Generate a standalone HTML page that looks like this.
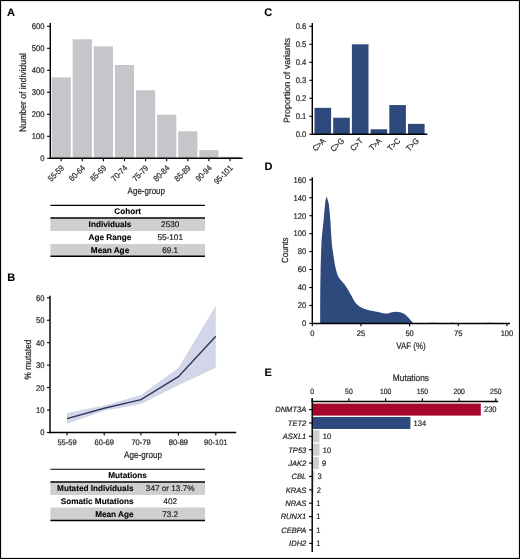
<!DOCTYPE html>
<html><head><meta charset="utf-8"><style>
html,body{margin:0;padding:0;background:#fff;}
body{width:520px;height:559px;overflow:hidden;}
svg{display:block;font-family:"Liberation Sans", sans-serif;will-change:transform;}
</style></head><body>
<svg width="520" height="559" viewBox="0 0 520 559" text-rendering="geometricPrecision">
<rect x="0" y="0" width="520" height="559" fill="#fff"/>
<text x="7.00" y="16.30" font-size="11" font-weight="bold" fill="#000" stroke="#000" stroke-width="0.1">A</text>
<text x="7.30" y="280.70" font-size="11" font-weight="bold" fill="#000" stroke="#000" stroke-width="0.1">B</text>
<text x="264.20" y="16.30" font-size="11" font-weight="bold" fill="#000" stroke="#000" stroke-width="0.1">C</text>
<text x="264.40" y="170.30" font-size="11" font-weight="bold" fill="#000" stroke="#000" stroke-width="0.1">D</text>
<text x="264.40" y="375.70" font-size="11" font-weight="bold" fill="#000" stroke="#000" stroke-width="0.1">E</text>
<rect x="51.60" y="77.34" width="19.20" height="80.96" fill="#c6c5ca"/>
<rect x="72.70" y="39.28" width="19.20" height="119.02" fill="#c6c5ca"/>
<rect x="93.80" y="46.32" width="19.20" height="111.98" fill="#c6c5ca"/>
<rect x="114.90" y="65.02" width="19.20" height="93.28" fill="#c6c5ca"/>
<rect x="136.00" y="90.32" width="19.20" height="67.98" fill="#c6c5ca"/>
<rect x="157.10" y="114.74" width="19.20" height="43.56" fill="#c6c5ca"/>
<rect x="178.20" y="131.24" width="19.20" height="27.06" fill="#c6c5ca"/>
<rect x="199.30" y="150.16" width="19.20" height="8.14" fill="#c6c5ca"/>
<rect x="220.40" y="156.76" width="19.20" height="1.54" fill="#c6c5ca"/>
<line x1="50.30" y1="22.90" x2="50.30" y2="158.95" stroke="#000" stroke-width="1.45"/>
<line x1="49.65" y1="158.30" x2="242.60" y2="158.30" stroke="#000" stroke-width="1.45"/>
<line x1="47.10" y1="158.30" x2="50.30" y2="158.30" stroke="#000" stroke-width="1.1"/>
<text transform="translate(44.60 161.20) scale(0.9200 1)" font-size="8.3" text-anchor="end" fill="#231f20" stroke="#231f20" stroke-width="0.2">0</text>
<line x1="47.10" y1="136.30" x2="50.30" y2="136.30" stroke="#000" stroke-width="1.1"/>
<text transform="translate(44.60 139.20) scale(0.9200 1)" font-size="8.3" text-anchor="end" fill="#231f20" stroke="#231f20" stroke-width="0.2">100</text>
<line x1="47.10" y1="114.30" x2="50.30" y2="114.30" stroke="#000" stroke-width="1.1"/>
<text transform="translate(44.60 117.20) scale(0.9200 1)" font-size="8.3" text-anchor="end" fill="#231f20" stroke="#231f20" stroke-width="0.2">200</text>
<line x1="47.10" y1="92.30" x2="50.30" y2="92.30" stroke="#000" stroke-width="1.1"/>
<text transform="translate(44.60 95.20) scale(0.9200 1)" font-size="8.3" text-anchor="end" fill="#231f20" stroke="#231f20" stroke-width="0.2">300</text>
<line x1="47.10" y1="70.30" x2="50.30" y2="70.30" stroke="#000" stroke-width="1.1"/>
<text transform="translate(44.60 73.20) scale(0.9200 1)" font-size="8.3" text-anchor="end" fill="#231f20" stroke="#231f20" stroke-width="0.2">400</text>
<line x1="47.10" y1="48.30" x2="50.30" y2="48.30" stroke="#000" stroke-width="1.1"/>
<text transform="translate(44.60 51.20) scale(0.9200 1)" font-size="8.3" text-anchor="end" fill="#231f20" stroke="#231f20" stroke-width="0.2">500</text>
<line x1="47.10" y1="26.30" x2="50.30" y2="26.30" stroke="#000" stroke-width="1.1"/>
<text transform="translate(44.60 29.20) scale(0.9200 1)" font-size="8.3" text-anchor="end" fill="#231f20" stroke="#231f20" stroke-width="0.2">600</text>
<line x1="61.20" y1="158.30" x2="61.20" y2="161.20" stroke="#000" stroke-width="1.1"/>
<text transform="translate(64.60 168.60) rotate(-45) scale(0.8800 1)" font-size="8.4" text-anchor="end" fill="#231f20" stroke="#231f20" stroke-width="0.2">55-59</text>
<line x1="82.30" y1="158.30" x2="82.30" y2="161.20" stroke="#000" stroke-width="1.1"/>
<text transform="translate(85.70 168.60) rotate(-45) scale(0.8800 1)" font-size="8.4" text-anchor="end" fill="#231f20" stroke="#231f20" stroke-width="0.2">60-64</text>
<line x1="103.40" y1="158.30" x2="103.40" y2="161.20" stroke="#000" stroke-width="1.1"/>
<text transform="translate(106.80 168.60) rotate(-45) scale(0.8800 1)" font-size="8.4" text-anchor="end" fill="#231f20" stroke="#231f20" stroke-width="0.2">65-69</text>
<line x1="124.50" y1="158.30" x2="124.50" y2="161.20" stroke="#000" stroke-width="1.1"/>
<text transform="translate(127.90 168.60) rotate(-45) scale(0.8800 1)" font-size="8.4" text-anchor="end" fill="#231f20" stroke="#231f20" stroke-width="0.2">70-74</text>
<line x1="145.60" y1="158.30" x2="145.60" y2="161.20" stroke="#000" stroke-width="1.1"/>
<text transform="translate(149.00 168.60) rotate(-45) scale(0.8800 1)" font-size="8.4" text-anchor="end" fill="#231f20" stroke="#231f20" stroke-width="0.2">75-79</text>
<line x1="166.70" y1="158.30" x2="166.70" y2="161.20" stroke="#000" stroke-width="1.1"/>
<text transform="translate(170.10 168.60) rotate(-45) scale(0.8800 1)" font-size="8.4" text-anchor="end" fill="#231f20" stroke="#231f20" stroke-width="0.2">80-84</text>
<line x1="187.80" y1="158.30" x2="187.80" y2="161.20" stroke="#000" stroke-width="1.1"/>
<text transform="translate(191.20 168.60) rotate(-45) scale(0.8800 1)" font-size="8.4" text-anchor="end" fill="#231f20" stroke="#231f20" stroke-width="0.2">85-89</text>
<line x1="208.90" y1="158.30" x2="208.90" y2="161.20" stroke="#000" stroke-width="1.1"/>
<text transform="translate(212.30 168.60) rotate(-45) scale(0.8800 1)" font-size="8.4" text-anchor="end" fill="#231f20" stroke="#231f20" stroke-width="0.2">90-94</text>
<line x1="230.00" y1="158.30" x2="230.00" y2="161.20" stroke="#000" stroke-width="1.1"/>
<text transform="translate(233.40 168.60) rotate(-45) scale(0.8800 1)" font-size="8.4" text-anchor="end" fill="#231f20" stroke="#231f20" stroke-width="0.2">95-101</text>
<text transform="translate(146.30 194.20) scale(0.8543 1)" font-size="9.4" text-anchor="middle" fill="#231f20" stroke="#231f20" stroke-width="0.2">Age-group</text>
<text transform="translate(25.80 92.50) rotate(-90) scale(0.9219 1)" font-size="9.4" text-anchor="middle" fill="#231f20" stroke="#231f20" stroke-width="0.2">Number of individual</text>
<rect x="50.40" y="218.50" width="154.60" height="12.50" fill="#cfcfcf"/>
<rect x="50.40" y="244.00" width="154.60" height="11.80" fill="#cfcfcf"/>
<line x1="50.40" y1="205.40" x2="205.00" y2="205.40" stroke="#000" stroke-width="1.1"/>
<line x1="50.40" y1="218.00" x2="205.00" y2="218.00" stroke="#000" stroke-width="1.5"/>
<line x1="50.40" y1="256.20" x2="205.00" y2="256.20" stroke="#000" stroke-width="1.5"/>
<text x="127.70" y="214.30" font-size="8.2" text-anchor="middle" font-weight="bold" fill="#000" stroke="#000" stroke-width="0.12">Cohort</text>
<text x="110.00" y="226.90" font-size="8.2" text-anchor="middle" font-weight="bold" fill="#000" stroke="#000" stroke-width="0.12">Individuals</text>
<text x="170.20" y="226.90" font-size="8.2" text-anchor="middle" fill="#231f20" stroke="#231f20" stroke-width="0.2">2530</text>
<text x="110.00" y="239.70" font-size="8.2" text-anchor="middle" font-weight="bold" fill="#000" stroke="#000" stroke-width="0.12">Age Range</text>
<text x="170.20" y="239.70" font-size="8.2" text-anchor="middle" fill="#231f20" stroke="#231f20" stroke-width="0.2">55-101</text>
<text x="110.00" y="252.50" font-size="8.2" text-anchor="middle" font-weight="bold" fill="#000" stroke="#000" stroke-width="0.12">Mean Age</text>
<text x="170.20" y="252.50" font-size="8.2" text-anchor="middle" fill="#231f20" stroke="#231f20" stroke-width="0.2">69.1</text>
<line x1="50.00" y1="295.80" x2="50.00" y2="433.15" stroke="#000" stroke-width="1.45"/>
<line x1="49.35" y1="432.50" x2="236.20" y2="432.50" stroke="#000" stroke-width="1.45"/>
<line x1="47.00" y1="432.50" x2="50.00" y2="432.50" stroke="#000" stroke-width="1.1"/>
<text transform="translate(44.40 435.40) scale(0.9200 1)" font-size="8.3" text-anchor="end" fill="#231f20" stroke="#231f20" stroke-width="0.2">0</text>
<line x1="47.00" y1="410.05" x2="50.00" y2="410.05" stroke="#000" stroke-width="1.1"/>
<text transform="translate(44.40 412.95) scale(0.9200 1)" font-size="8.3" text-anchor="end" fill="#231f20" stroke="#231f20" stroke-width="0.2">10</text>
<line x1="47.00" y1="387.60" x2="50.00" y2="387.60" stroke="#000" stroke-width="1.1"/>
<text transform="translate(44.40 390.50) scale(0.9200 1)" font-size="8.3" text-anchor="end" fill="#231f20" stroke="#231f20" stroke-width="0.2">20</text>
<line x1="47.00" y1="365.15" x2="50.00" y2="365.15" stroke="#000" stroke-width="1.1"/>
<text transform="translate(44.40 368.05) scale(0.9200 1)" font-size="8.3" text-anchor="end" fill="#231f20" stroke="#231f20" stroke-width="0.2">30</text>
<line x1="47.00" y1="342.70" x2="50.00" y2="342.70" stroke="#000" stroke-width="1.1"/>
<text transform="translate(44.40 345.60) scale(0.9200 1)" font-size="8.3" text-anchor="end" fill="#231f20" stroke="#231f20" stroke-width="0.2">40</text>
<line x1="47.00" y1="320.25" x2="50.00" y2="320.25" stroke="#000" stroke-width="1.1"/>
<text transform="translate(44.40 323.15) scale(0.9200 1)" font-size="8.3" text-anchor="end" fill="#231f20" stroke="#231f20" stroke-width="0.2">50</text>
<line x1="47.00" y1="297.80" x2="50.00" y2="297.80" stroke="#000" stroke-width="1.1"/>
<text transform="translate(44.40 300.70) scale(0.9200 1)" font-size="8.3" text-anchor="end" fill="#231f20" stroke="#231f20" stroke-width="0.2">60</text>
<line x1="67.00" y1="432.50" x2="67.00" y2="435.50" stroke="#000" stroke-width="1.1"/>
<text transform="translate(67.00 445.30) scale(0.9400 1)" font-size="8.0" text-anchor="middle" fill="#231f20" stroke="#231f20" stroke-width="0.2">55-59</text>
<line x1="104.20" y1="432.50" x2="104.20" y2="435.50" stroke="#000" stroke-width="1.1"/>
<text transform="translate(104.20 445.30) scale(0.9400 1)" font-size="8.0" text-anchor="middle" fill="#231f20" stroke="#231f20" stroke-width="0.2">60-69</text>
<line x1="141.00" y1="432.50" x2="141.00" y2="435.50" stroke="#000" stroke-width="1.1"/>
<text transform="translate(141.00 445.30) scale(0.9400 1)" font-size="8.0" text-anchor="middle" fill="#231f20" stroke="#231f20" stroke-width="0.2">70-79</text>
<line x1="178.40" y1="432.50" x2="178.40" y2="435.50" stroke="#000" stroke-width="1.1"/>
<text transform="translate(178.40 445.30) scale(0.9400 1)" font-size="8.0" text-anchor="middle" fill="#231f20" stroke="#231f20" stroke-width="0.2">80-89</text>
<line x1="215.80" y1="432.50" x2="215.80" y2="435.50" stroke="#000" stroke-width="1.1"/>
<text transform="translate(215.80 445.30) scale(0.9400 1)" font-size="8.0" text-anchor="middle" fill="#231f20" stroke="#231f20" stroke-width="0.2">90-101</text>
<polygon points="67.0,413.0 104.2,405.5 141.0,395.0 178.4,368.0 215.8,305.7 215.8,367.8 178.4,385.2 141.0,404.0 104.2,410.8 67.0,423.8" fill="#d3d6e8"/>
<polyline points="67.0,418.6 104.2,408.3 141.0,399.7 178.4,376.7 215.8,336.3" fill="none" stroke="#2f3759" stroke-width="1.4"/>
<text transform="translate(143.00 457.70) scale(0.8656 1)" font-size="9.4" text-anchor="middle" fill="#231f20" stroke="#231f20" stroke-width="0.2">Age-group</text>
<text transform="translate(30.50 359.50) rotate(-90) scale(0.8902 1)" font-size="9.4" text-anchor="middle" fill="#231f20" stroke="#231f20" stroke-width="0.2">% mutated</text>
<rect x="50.40" y="482.50" width="154.60" height="12.50" fill="#cfcfcf"/>
<rect x="50.40" y="507.50" width="154.60" height="12.50" fill="#cfcfcf"/>
<line x1="50.40" y1="469.30" x2="205.00" y2="469.30" stroke="#000" stroke-width="1.1"/>
<line x1="50.40" y1="482.00" x2="205.00" y2="482.00" stroke="#000" stroke-width="1.5"/>
<line x1="50.40" y1="520.50" x2="205.00" y2="520.50" stroke="#000" stroke-width="1.5"/>
<text x="127.60" y="478.30" font-size="8.2" text-anchor="middle" font-weight="bold" fill="#000" stroke="#000" stroke-width="0.12">Mutations</text>
<text x="133.50" y="490.80" font-size="8.2" text-anchor="end" font-weight="bold" fill="#000" stroke="#000" stroke-width="0.12">Mutated Individuals</text>
<text x="170.20" y="490.80" font-size="8.2" text-anchor="middle" fill="#231f20" stroke="#231f20" stroke-width="0.2">347 or 13.7%</text>
<text x="133.50" y="503.90" font-size="8.2" text-anchor="end" font-weight="bold" fill="#000" stroke="#000" stroke-width="0.12">Somatic Mutations</text>
<text x="170.20" y="503.90" font-size="8.2" text-anchor="middle" fill="#231f20" stroke="#231f20" stroke-width="0.2">402</text>
<text x="133.50" y="516.80" font-size="8.2" text-anchor="end" font-weight="bold" fill="#000" stroke="#000" stroke-width="0.12">Mean Age</text>
<text x="170.20" y="516.80" font-size="8.2" text-anchor="middle" fill="#231f20" stroke="#231f20" stroke-width="0.2">73.2</text>
<rect x="314.50" y="107.84" width="16.60" height="26.46" fill="#2e4a7d"/>
<rect x="333.20" y="117.74" width="16.60" height="16.56" fill="#2e4a7d"/>
<rect x="351.90" y="44.30" width="16.60" height="90.00" fill="#2e4a7d"/>
<rect x="370.60" y="129.26" width="16.60" height="5.04" fill="#2e4a7d"/>
<rect x="389.30" y="105.05" width="16.60" height="29.25" fill="#2e4a7d"/>
<rect x="408.00" y="123.86" width="16.60" height="10.44" fill="#2e4a7d"/>
<line x1="312.30" y1="23.00" x2="312.30" y2="134.95" stroke="#000" stroke-width="1.45"/>
<line x1="311.65" y1="134.30" x2="427.30" y2="134.30" stroke="#000" stroke-width="1.45"/>
<line x1="309.30" y1="134.30" x2="312.30" y2="134.30" stroke="#000" stroke-width="1.1"/>
<text transform="translate(306.30 137.10) scale(0.9200 1)" font-size="8.3" text-anchor="end" fill="#231f20" stroke="#231f20" stroke-width="0.2">0.0</text>
<line x1="309.30" y1="116.30" x2="312.30" y2="116.30" stroke="#000" stroke-width="1.1"/>
<text transform="translate(306.30 119.10) scale(0.9200 1)" font-size="8.3" text-anchor="end" fill="#231f20" stroke="#231f20" stroke-width="0.2">0.1</text>
<line x1="309.30" y1="98.30" x2="312.30" y2="98.30" stroke="#000" stroke-width="1.1"/>
<text transform="translate(306.30 101.10) scale(0.9200 1)" font-size="8.3" text-anchor="end" fill="#231f20" stroke="#231f20" stroke-width="0.2">0.2</text>
<line x1="309.30" y1="80.30" x2="312.30" y2="80.30" stroke="#000" stroke-width="1.1"/>
<text transform="translate(306.30 83.10) scale(0.9200 1)" font-size="8.3" text-anchor="end" fill="#231f20" stroke="#231f20" stroke-width="0.2">0.3</text>
<line x1="309.30" y1="62.30" x2="312.30" y2="62.30" stroke="#000" stroke-width="1.1"/>
<text transform="translate(306.30 65.10) scale(0.9200 1)" font-size="8.3" text-anchor="end" fill="#231f20" stroke="#231f20" stroke-width="0.2">0.4</text>
<line x1="309.30" y1="44.30" x2="312.30" y2="44.30" stroke="#000" stroke-width="1.1"/>
<text transform="translate(306.30 47.10) scale(0.9200 1)" font-size="8.3" text-anchor="end" fill="#231f20" stroke="#231f20" stroke-width="0.2">0.5</text>
<line x1="309.30" y1="26.30" x2="312.30" y2="26.30" stroke="#000" stroke-width="1.1"/>
<text transform="translate(306.30 29.10) scale(0.9200 1)" font-size="8.3" text-anchor="end" fill="#231f20" stroke="#231f20" stroke-width="0.2">0.6</text>
<text transform="translate(326.00 141.40) rotate(-45) scale(0.9000 1)" font-size="8.2" text-anchor="end" fill="#231f20" stroke="#231f20" stroke-width="0.2">C&gt;A</text>
<text transform="translate(344.70 141.40) rotate(-45) scale(0.9000 1)" font-size="8.2" text-anchor="end" fill="#231f20" stroke="#231f20" stroke-width="0.2">C&gt;G</text>
<text transform="translate(363.40 141.40) rotate(-45) scale(0.9000 1)" font-size="8.2" text-anchor="end" fill="#231f20" stroke="#231f20" stroke-width="0.2">C&gt;T</text>
<text transform="translate(382.10 141.40) rotate(-45) scale(0.9000 1)" font-size="8.2" text-anchor="end" fill="#231f20" stroke="#231f20" stroke-width="0.2">T&gt;A</text>
<text transform="translate(400.80 141.40) rotate(-45) scale(0.9000 1)" font-size="8.2" text-anchor="end" fill="#231f20" stroke="#231f20" stroke-width="0.2">T&gt;C</text>
<text transform="translate(419.50 141.40) rotate(-45) scale(0.9000 1)" font-size="8.2" text-anchor="end" fill="#231f20" stroke="#231f20" stroke-width="0.2">T&gt;G</text>
<text transform="translate(289.50 80.50) rotate(-90) scale(0.9936 1)" font-size="9.0" text-anchor="middle" fill="#231f20" stroke="#231f20" stroke-width="0.2">Proportion of variants</text>
<path d="M320.20,323.40 C320.20,319.50 320.13,308.90 320.20,300.00 C320.27,291.10 320.40,279.17 320.60,270.00 C320.80,260.83 321.15,250.95 321.40,245.00 C321.65,239.05 321.72,238.55 322.10,234.30 C322.48,230.05 323.22,224.42 323.70,219.50 C324.18,214.58 324.65,208.18 325.00,204.80 C325.35,201.42 325.53,200.58 325.80,199.20 C326.07,197.82 326.47,196.95 326.60,196.50 L326.60,196.50 C326.75,196.95 327.12,197.82 327.50,199.20 C327.88,200.58 328.43,201.42 328.90,204.80 C329.37,208.18 329.92,214.58 330.30,219.50 C330.68,224.42 330.92,230.05 331.20,234.30 C331.48,238.55 331.68,241.88 332.00,245.00 C332.32,248.12 332.67,250.00 333.10,253.00 C333.53,256.00 334.02,259.83 334.60,263.00 C335.18,266.17 335.87,269.53 336.60,272.00 C337.33,274.47 338.10,276.22 339.00,277.80 C339.90,279.38 341.00,280.30 342.00,281.50 C343.00,282.70 344.02,283.65 345.00,285.00 C345.98,286.35 346.85,287.83 347.90,289.60 C348.95,291.37 350.18,293.62 351.30,295.60 C352.42,297.58 353.38,299.82 354.60,301.50 C355.82,303.18 356.93,304.47 358.60,305.70 C360.27,306.93 362.45,308.07 364.60,308.90 C366.75,309.73 369.48,310.23 371.50,310.70 C373.52,311.17 374.97,311.33 376.70,311.70 C378.43,312.07 380.22,312.58 381.90,312.90 C383.58,313.22 385.28,313.68 386.80,313.60 C388.32,313.52 389.50,312.72 391.00,312.40 C392.50,312.08 394.10,311.68 395.80,311.70 C397.50,311.72 399.53,311.95 401.20,312.50 C402.87,313.05 404.40,313.92 405.80,315.00 C407.20,316.08 408.33,317.60 409.60,319.00 C410.87,320.40 412.77,322.67 413.40,323.40 Z" fill="#2e4a7d"/>
<path d="M420,323.4 Q433,322.09999999999997 446,323.4 Q452,322.29999999999995 458,323.4 M478,323.4 Q490,322.2 502,323.4 Z" fill="#2e4a7d"/>
<line x1="312.30" y1="177.30" x2="312.30" y2="324.05" stroke="#000" stroke-width="1.45"/>
<line x1="311.65" y1="323.40" x2="510.00" y2="323.40" stroke="#000" stroke-width="1.45"/>
<line x1="309.30" y1="323.40" x2="312.30" y2="323.40" stroke="#000" stroke-width="1.1"/>
<text transform="translate(306.30 326.20) scale(0.9200 1)" font-size="8.3" text-anchor="end" fill="#231f20" stroke="#231f20" stroke-width="0.2">0</text>
<line x1="309.30" y1="305.45" x2="312.30" y2="305.45" stroke="#000" stroke-width="1.1"/>
<text transform="translate(306.30 308.25) scale(0.9200 1)" font-size="8.3" text-anchor="end" fill="#231f20" stroke="#231f20" stroke-width="0.2">20</text>
<line x1="309.30" y1="287.50" x2="312.30" y2="287.50" stroke="#000" stroke-width="1.1"/>
<text transform="translate(306.30 290.30) scale(0.9200 1)" font-size="8.3" text-anchor="end" fill="#231f20" stroke="#231f20" stroke-width="0.2">40</text>
<line x1="309.30" y1="269.55" x2="312.30" y2="269.55" stroke="#000" stroke-width="1.1"/>
<text transform="translate(306.30 272.35) scale(0.9200 1)" font-size="8.3" text-anchor="end" fill="#231f20" stroke="#231f20" stroke-width="0.2">60</text>
<line x1="309.30" y1="251.60" x2="312.30" y2="251.60" stroke="#000" stroke-width="1.1"/>
<text transform="translate(306.30 254.40) scale(0.9200 1)" font-size="8.3" text-anchor="end" fill="#231f20" stroke="#231f20" stroke-width="0.2">80</text>
<line x1="309.30" y1="233.65" x2="312.30" y2="233.65" stroke="#000" stroke-width="1.1"/>
<text transform="translate(306.30 236.45) scale(0.9200 1)" font-size="8.3" text-anchor="end" fill="#231f20" stroke="#231f20" stroke-width="0.2">100</text>
<line x1="309.30" y1="215.70" x2="312.30" y2="215.70" stroke="#000" stroke-width="1.1"/>
<text transform="translate(306.30 218.50) scale(0.9200 1)" font-size="8.3" text-anchor="end" fill="#231f20" stroke="#231f20" stroke-width="0.2">120</text>
<line x1="309.30" y1="197.75" x2="312.30" y2="197.75" stroke="#000" stroke-width="1.1"/>
<text transform="translate(306.30 200.55) scale(0.9200 1)" font-size="8.3" text-anchor="end" fill="#231f20" stroke="#231f20" stroke-width="0.2">140</text>
<line x1="309.30" y1="179.80" x2="312.30" y2="179.80" stroke="#000" stroke-width="1.1"/>
<text transform="translate(306.30 182.60) scale(0.9200 1)" font-size="8.3" text-anchor="end" fill="#231f20" stroke="#231f20" stroke-width="0.2">160</text>
<line x1="312.30" y1="323.40" x2="312.30" y2="326.20" stroke="#000" stroke-width="1.1"/>
<text transform="translate(312.30 335.90) scale(0.9400 1)" font-size="8.0" text-anchor="middle" fill="#231f20" stroke="#231f20" stroke-width="0.2">0</text>
<line x1="360.95" y1="323.40" x2="360.95" y2="326.20" stroke="#000" stroke-width="1.1"/>
<text transform="translate(360.95 335.90) scale(0.9400 1)" font-size="8.0" text-anchor="middle" fill="#231f20" stroke="#231f20" stroke-width="0.2">25</text>
<line x1="409.60" y1="323.40" x2="409.60" y2="326.20" stroke="#000" stroke-width="1.1"/>
<text transform="translate(409.60 335.90) scale(0.9400 1)" font-size="8.0" text-anchor="middle" fill="#231f20" stroke="#231f20" stroke-width="0.2">50</text>
<line x1="458.25" y1="323.40" x2="458.25" y2="326.20" stroke="#000" stroke-width="1.1"/>
<text transform="translate(458.25 335.90) scale(0.9400 1)" font-size="8.0" text-anchor="middle" fill="#231f20" stroke="#231f20" stroke-width="0.2">75</text>
<line x1="506.90" y1="323.40" x2="506.90" y2="326.20" stroke="#000" stroke-width="1.1"/>
<text transform="translate(506.90 335.90) scale(0.9400 1)" font-size="8.0" text-anchor="middle" fill="#231f20" stroke="#231f20" stroke-width="0.2">100</text>
<text transform="translate(411.00 348.50) scale(0.8502 1)" font-size="9.4" text-anchor="middle" fill="#231f20" stroke="#231f20" stroke-width="0.2">VAF (%)</text>
<text transform="translate(287.90 250.30) rotate(-90) scale(0.8907 1)" font-size="9.0" text-anchor="middle" fill="#231f20" stroke="#231f20" stroke-width="0.2">Counts</text>
<rect x="312.20" y="403.60" width="168.59" height="12.00" fill="#a6062b"/>
<line x1="309.00" y1="409.60" x2="312.20" y2="409.60" stroke="#000" stroke-width="1.1"/>
<text transform="translate(306.30 412.40) scale(0.9700 1)" font-size="7.8" text-anchor="end" font-style="italic" fill="#231f20" stroke="#231f20" stroke-width="0.2">DNMT3A</text>
<text transform="translate(483.99 412.40) scale(0.9400 1)" font-size="8.0" fill="#231f20" stroke="#231f20" stroke-width="0.2">230</text>
<rect x="312.20" y="416.97" width="98.22" height="12.00" fill="#2e4a7d"/>
<line x1="309.00" y1="422.97" x2="312.20" y2="422.97" stroke="#000" stroke-width="1.1"/>
<text transform="translate(306.30 425.77) scale(0.9700 1)" font-size="7.8" text-anchor="end" font-style="italic" fill="#231f20" stroke="#231f20" stroke-width="0.2">TET2</text>
<text transform="translate(413.62 425.77) scale(0.9400 1)" font-size="8.0" fill="#231f20" stroke="#231f20" stroke-width="0.2">134</text>
<rect x="312.20" y="430.34" width="7.33" height="12.00" fill="#cdcdd2"/>
<line x1="309.00" y1="436.34" x2="312.20" y2="436.34" stroke="#000" stroke-width="1.1"/>
<text transform="translate(306.30 439.14) scale(0.9700 1)" font-size="7.8" text-anchor="end" font-style="italic" fill="#231f20" stroke="#231f20" stroke-width="0.2">ASXL1</text>
<text transform="translate(322.73 439.14) scale(0.9400 1)" font-size="8.0" fill="#231f20" stroke="#231f20" stroke-width="0.2">10</text>
<rect x="312.20" y="443.71" width="7.33" height="12.00" fill="#cdcdd2"/>
<line x1="309.00" y1="449.71" x2="312.20" y2="449.71" stroke="#000" stroke-width="1.1"/>
<text transform="translate(306.30 452.51) scale(0.9700 1)" font-size="7.8" text-anchor="end" font-style="italic" fill="#231f20" stroke="#231f20" stroke-width="0.2">TP53</text>
<text transform="translate(322.73 452.51) scale(0.9400 1)" font-size="8.0" fill="#231f20" stroke="#231f20" stroke-width="0.2">10</text>
<rect x="312.20" y="457.08" width="6.60" height="12.00" fill="#cdcdd2"/>
<line x1="309.00" y1="463.08" x2="312.20" y2="463.08" stroke="#000" stroke-width="1.1"/>
<text transform="translate(306.30 465.88) scale(0.9700 1)" font-size="7.8" text-anchor="end" font-style="italic" fill="#231f20" stroke="#231f20" stroke-width="0.2">JAK2</text>
<text transform="translate(322.00 465.88) scale(0.9400 1)" font-size="8.0" fill="#231f20" stroke="#231f20" stroke-width="0.2">9</text>
<rect x="312.20" y="470.45" width="2.20" height="12.00" fill="#cdcdd2"/>
<line x1="309.00" y1="476.45" x2="312.20" y2="476.45" stroke="#000" stroke-width="1.1"/>
<text transform="translate(306.30 479.25) scale(0.9700 1)" font-size="7.8" text-anchor="end" font-style="italic" fill="#231f20" stroke="#231f20" stroke-width="0.2">CBL</text>
<text transform="translate(317.60 479.25) scale(0.9400 1)" font-size="8.0" fill="#231f20" stroke="#231f20" stroke-width="0.2">3</text>
<rect x="312.20" y="483.82" width="1.47" height="12.00" fill="#cdcdd2"/>
<line x1="309.00" y1="489.82" x2="312.20" y2="489.82" stroke="#000" stroke-width="1.1"/>
<text transform="translate(306.30 492.62) scale(0.9700 1)" font-size="7.8" text-anchor="end" font-style="italic" fill="#231f20" stroke="#231f20" stroke-width="0.2">KRAS</text>
<text transform="translate(316.87 492.62) scale(0.9400 1)" font-size="8.0" fill="#231f20" stroke="#231f20" stroke-width="0.2">2</text>
<rect x="312.20" y="497.19" width="0.73" height="12.00" fill="#cdcdd2"/>
<line x1="309.00" y1="503.19" x2="312.20" y2="503.19" stroke="#000" stroke-width="1.1"/>
<text transform="translate(306.30 505.99) scale(0.9700 1)" font-size="7.8" text-anchor="end" font-style="italic" fill="#231f20" stroke="#231f20" stroke-width="0.2">NRAS</text>
<text transform="translate(316.13 505.99) scale(0.9400 1)" font-size="8.0" fill="#231f20" stroke="#231f20" stroke-width="0.2">1</text>
<rect x="312.20" y="510.56" width="0.73" height="12.00" fill="#cdcdd2"/>
<line x1="309.00" y1="516.56" x2="312.20" y2="516.56" stroke="#000" stroke-width="1.1"/>
<text transform="translate(306.30 519.36) scale(0.9700 1)" font-size="7.8" text-anchor="end" font-style="italic" fill="#231f20" stroke="#231f20" stroke-width="0.2">RUNX1</text>
<text transform="translate(316.13 519.36) scale(0.9400 1)" font-size="8.0" fill="#231f20" stroke="#231f20" stroke-width="0.2">1</text>
<rect x="312.20" y="523.93" width="0.73" height="12.00" fill="#cdcdd2"/>
<line x1="309.00" y1="529.93" x2="312.20" y2="529.93" stroke="#000" stroke-width="1.1"/>
<text transform="translate(306.30 532.73) scale(0.9700 1)" font-size="7.8" text-anchor="end" font-style="italic" fill="#231f20" stroke="#231f20" stroke-width="0.2">CEBPA</text>
<text transform="translate(316.13 532.73) scale(0.9400 1)" font-size="8.0" fill="#231f20" stroke="#231f20" stroke-width="0.2">1</text>
<rect x="312.20" y="537.30" width="0.73" height="12.00" fill="#cdcdd2"/>
<line x1="309.00" y1="543.30" x2="312.20" y2="543.30" stroke="#000" stroke-width="1.1"/>
<text transform="translate(306.30 546.10) scale(0.9700 1)" font-size="7.8" text-anchor="end" font-style="italic" fill="#231f20" stroke="#231f20" stroke-width="0.2">IDH2</text>
<text transform="translate(316.13 546.10) scale(0.9400 1)" font-size="8.0" fill="#231f20" stroke="#231f20" stroke-width="0.2">1</text>
<line x1="312.20" y1="398.30" x2="312.20" y2="552.10" stroke="#000" stroke-width="1.45"/>
<line x1="311.55" y1="401.40" x2="498.10" y2="401.40" stroke="#000" stroke-width="1.45"/>
<line x1="312.20" y1="401.40" x2="312.20" y2="398.30" stroke="#000" stroke-width="1.1"/>
<text transform="translate(312.20 393.70) scale(0.9000 1)" font-size="7.6" text-anchor="middle" fill="#231f20" stroke="#231f20" stroke-width="0.2">0</text>
<line x1="348.92" y1="401.40" x2="348.92" y2="398.30" stroke="#000" stroke-width="1.1"/>
<text transform="translate(348.92 393.70) scale(0.9000 1)" font-size="7.6" text-anchor="middle" fill="#231f20" stroke="#231f20" stroke-width="0.2">50</text>
<line x1="385.64" y1="401.40" x2="385.64" y2="398.30" stroke="#000" stroke-width="1.1"/>
<text transform="translate(385.64 393.70) scale(0.9000 1)" font-size="7.6" text-anchor="middle" fill="#231f20" stroke="#231f20" stroke-width="0.2">100</text>
<line x1="422.36" y1="401.40" x2="422.36" y2="398.30" stroke="#000" stroke-width="1.1"/>
<text transform="translate(422.36 393.70) scale(0.9000 1)" font-size="7.6" text-anchor="middle" fill="#231f20" stroke="#231f20" stroke-width="0.2">150</text>
<line x1="459.08" y1="401.40" x2="459.08" y2="398.30" stroke="#000" stroke-width="1.1"/>
<text transform="translate(459.08 393.70) scale(0.9000 1)" font-size="7.6" text-anchor="middle" fill="#231f20" stroke="#231f20" stroke-width="0.2">200</text>
<line x1="495.80" y1="401.40" x2="495.80" y2="398.30" stroke="#000" stroke-width="1.1"/>
<text transform="translate(495.80 393.70) scale(0.9000 1)" font-size="7.6" text-anchor="middle" fill="#231f20" stroke="#231f20" stroke-width="0.2">250</text>
<text transform="translate(410.90 381.40) scale(0.8907 1)" font-size="9.4" text-anchor="middle" fill="#231f20" stroke="#231f20" stroke-width="0.2">Mutations</text>
<rect x="0.5" y="0.5" width="519" height="558" fill="none" stroke="#000" stroke-width="1.2"/>
</svg>
</body></html>
